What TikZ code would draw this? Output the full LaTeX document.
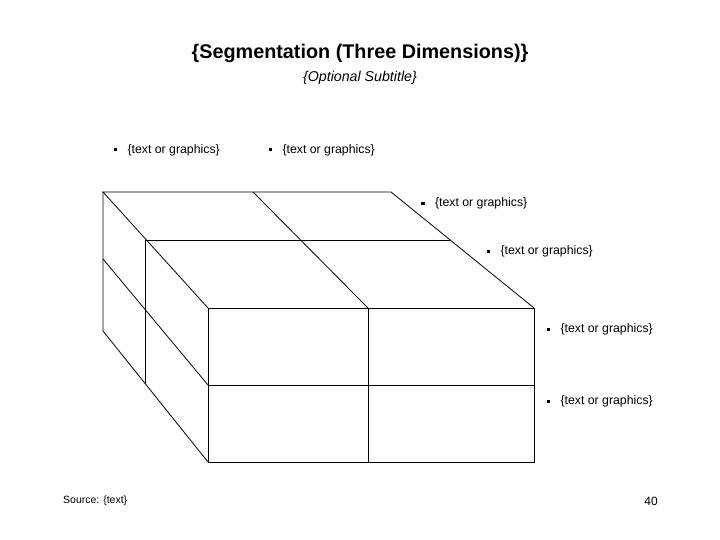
\documentclass[tikz,border=0pt]{standalone}
\usepackage{fontspec}
\setmainfont{Liberation Sans}
\usetikzlibrary{positioning}

\newcommand{\sqbul}{\rule[1.7pt]{3.3pt}{3.3pt}}

\begin{document}
\begin{tikzpicture}[
  x=1pt, y=-1pt,
  pedge/.style={line width=0.8pt, color=black, line join=miter},
  ptitle/.style={inner sep=0pt,
    font=\fontsize{19.8}{23}\selectfont\bfseries},
  psub/.style={inner sep=0pt,
    font=\fontsize{14.2}{17}\selectfont\itshape},
  pbul/.style={anchor=west, inner sep=0pt,
    font=\fontsize{12.3}{15}\selectfont},
  pfoot/.style={inner sep=0pt, font=\fontsize{10.5}{12}\selectfont},
  pnum/.style={inner sep=0pt, font=\fontsize{12}{14}\selectfont},
]
  \useasboundingbox (0,0) rectangle (720,540);

  %% ── Heading ─────────────────────────────────────────────────
  \node[ptitle] (title) at (360,53) {\{Segmentation (Three Dimensions)\}};
  \node[psub, below=25pt of title.center, anchor=center] (subtitle)
    {\{Optional Subtitle\}};

  %% ── Block corners ───────────────────────────────────────────
  \coordinate (bkTL) at (103,192);   % back, top left
  \coordinate (bkTM) at (253,192);
  \coordinate (bkTR) at (391,192);
  \coordinate (bkML) at (103,259);
  \coordinate (bkBL) at (103,331);
  \coordinate (mdTL) at (145,240);   % middle layer
  \coordinate (mdTR) at (450,240);
  \coordinate (mdBL) at (145,384);
  \coordinate (frTL) at (208,308);   % front face
  \coordinate (frTM) at (368,308);
  \coordinate (frTR) at (534,308);
  \coordinate (frML) at (208,385);
  \coordinate (frMR) at (534,385);
  \coordinate (frBL) at (208,462);
  \coordinate (frBM) at (368,462);
  \coordinate (frBR) at (534,462);

  %% ── Front face ──────────────────────────────────────────────
  \draw[pedge] (frTL) -- (frTR) -- (frBR) -- (frBL) -- cycle;
  \draw[pedge] (frTM) -- (frBM);
  \draw[pedge] (frML) -- (frMR);

  %% ── Top face ────────────────────────────────────────────────
  \draw[pedge] (frTL) -- (bkTL) -- (bkTR) -- (frTR);
  \draw[pedge] (mdTL) -- (mdTR);
  \draw[pedge] (bkTM) -- (frTM);

  %% ── Left face ───────────────────────────────────────────────
  \draw[pedge] (bkTL) -- (bkBL) -- (frBL);
  \draw[pedge] (mdTL) -- (mdBL);
  \draw[pedge] (bkML) -- (frML);

  %% ── Bullets ─────────────────────────────────────────────────
  \foreach \n/\px/\py in {bA/113.5/150, bB/268.5/150, bC/421/203.5,
                          bD/486.5/251.5, bE/546.5/329.5, bF/546.5/401.5}
    \node[pbul] (\n) at (\px,\py) {\sqbul\hspace{10.5pt}\{text or graphics\}};

  %% ── Footer ──────────────────────────────────────────────────
  \node[pfoot, anchor=west] (source) at (63,501) {Source: \{text\}};
  \node[pnum] (page) at (651,501) {40};

\end{tikzpicture}
\end{document}
